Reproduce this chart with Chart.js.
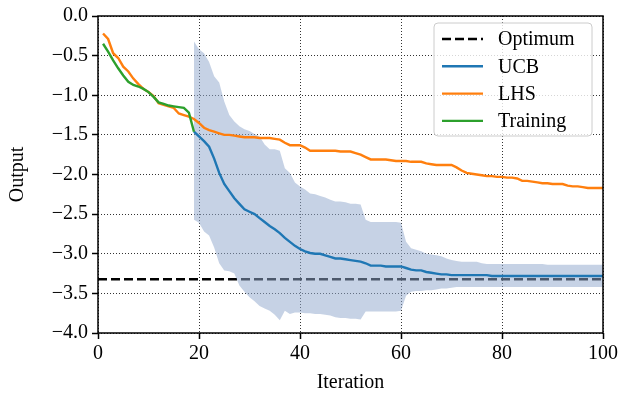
<!DOCTYPE html>
<html>
<head>
<meta charset="utf-8">
<script src="https://cdn.jsdelivr.net/npm/chart.js@4.4.1/dist/chart.umd.min.js"></script>
<style>
  body { margin: 0; background: #fff; }
  #wrap { width: 624px; height: 396px; }
</style>
</head>
<body>
<div id="wrap"><canvas id="myChart"></canvas></div>
<script>
// ----------- Data ------------ //

const OPTIMUM = -3.32237;
const X_RANGE = [0, 100];

// training runs, iterations 1..19
const TRAIN_START = 1;
const training = [-0.35, -0.45, -0.56, -0.66, -0.75, -0.83, -0.87, -0.89, -0.92, -0.96,
  -1.02, -1.09, -1.11, -1.13, -1.14, -1.15, -1.16, -1.22, -1.46];

// LHS, iterations 1..100
const LHS_START = 1;
const lhs = [-0.22, -0.29, -0.47, -0.53, -0.64, -0.70, -0.79, -0.86, -0.92, -0.96,
  -1.01, -1.10, -1.12, -1.14, -1.16, -1.23, -1.25, -1.27, -1.30, -1.35,
  -1.41, -1.44, -1.46, -1.48, -1.50, -1.50, -1.51, -1.52, -1.53, -1.53,
  -1.53, -1.54, -1.54, -1.54, -1.55, -1.56, -1.60, -1.63, -1.63, -1.63,
  -1.66, -1.70, -1.70, -1.70, -1.70, -1.70, -1.70, -1.71, -1.71, -1.71,
  -1.73, -1.75, -1.78, -1.81, -1.81, -1.81, -1.81, -1.82, -1.83, -1.83,
  -1.83, -1.84, -1.84, -1.84, -1.86, -1.87, -1.88, -1.88, -1.88, -1.88,
  -1.91, -1.95, -1.98, -1.99, -2.00, -2.01, -2.02, -2.02, -2.03, -2.03,
  -2.04, -2.04, -2.05, -2.08, -2.08, -2.09, -2.10, -2.11, -2.11, -2.12,
  -2.12, -2.12, -2.14, -2.15, -2.15, -2.16, -2.17, -2.17, -2.17, -2.17];

// UCB mean and spread, iterations 19..100
const UCB_START = 19;
const ucb = [-1.46, -1.52, -1.58, -1.65, -1.80, -1.98, -2.12, -2.21, -2.30, -2.37,
  -2.44, -2.47, -2.50, -2.55, -2.60, -2.65, -2.69, -2.74, -2.80, -2.85,
  -2.90, -2.94, -2.97, -2.99, -3.00, -3.00, -3.02, -3.04, -3.06, -3.06,
  -3.07, -3.08, -3.09, -3.10, -3.12, -3.15, -3.15, -3.15, -3.16, -3.16,
  -3.16, -3.16, -3.18, -3.20, -3.21, -3.21, -3.23, -3.24, -3.25, -3.26,
  -3.26, -3.27, -3.27, -3.27, -3.27, -3.27, -3.27, -3.27, -3.27, -3.28,
  -3.28, -3.28, -3.28, -3.28, -3.28, -3.28, -3.28, -3.28, -3.28, -3.28,
  -3.28, -3.28, -3.28, -3.28, -3.28, -3.28, -3.28, -3.28, -3.28, -3.28,
  -3.28, -3.28];
const ucbUpper = [-0.32, -0.42, -0.47, -0.58, -0.76, -0.84, -1.08, -1.25, -1.33, -1.39,
  -1.43, -1.45, -1.49, -1.52, -1.62, -1.68, -1.68, -1.70, -1.92, -1.98,
  -2.10, -2.15, -2.19, -2.24, -2.25, -2.27, -2.29, -2.32, -2.34, -2.34,
  -2.35, -2.37, -2.37, -2.38, -2.57, -2.60, -2.60, -2.60, -2.60, -2.60,
  -2.60, -2.61, -2.85, -2.93, -2.95, -2.97, -3.00, -3.01, -3.02, -3.03,
  -3.06, -3.08, -3.09, -3.10, -3.10, -3.10, -3.10, -3.12, -3.13, -3.13,
  -3.13, -3.13, -3.13, -3.13, -3.13, -3.13, -3.13, -3.13, -3.13, -3.13,
  -3.14, -3.14, -3.14, -3.14, -3.14, -3.14, -3.14, -3.14, -3.14, -3.14,
  -3.14, -3.14];
const ucbLower = [-2.57, -2.61, -2.72, -2.77, -2.92, -3.12, -3.21, -3.22, -3.25, -3.40,
  -3.48, -3.55, -3.60, -3.66, -3.69, -3.72, -3.77, -3.84, -3.72, -3.76,
  -3.74, -3.74, -3.75, -3.75, -3.76, -3.76, -3.77, -3.78, -3.80, -3.81,
  -3.81, -3.82, -3.82, -3.83, -3.73, -3.73, -3.73, -3.73, -3.73, -3.73,
  -3.73, -3.72, -3.53, -3.48, -3.47, -3.47, -3.46, -3.46, -3.45, -3.44,
  -3.44, -3.43, -3.42, -3.42, -3.42, -3.42, -3.42, -3.42, -3.42, -3.42,
  -3.42, -3.42, -3.42, -3.42, -3.42, -3.42, -3.42, -3.42, -3.42, -3.42,
  -3.42, -3.42, -3.42, -3.42, -3.42, -3.42, -3.42, -3.42, -3.42, -3.42,
  -3.42, -3.42];

const xTicks = [0, 20, 40, 60, 80, 100];
const yTicks = [0, -0.5, -1, -1.5, -2, -2.5, -3, -3.5, -4];

// turn a list of values into {x, y} points
function toPoints(start, values) {
  return values.map((v, i) => ({ x: start + i, y: v }));
}

const FONT = "'Liberation Serif', 'DejaVu Serif', serif";
const BLUE = "#1f77b4", ORANGE = "#ff7f0e", GREEN = "#2ca02c";
const LW = 2.4;

// ----------- Plugins ------------ //

// black box round the plot area
const frame = {
  id: "frame",
  afterDatasetsDraw(chart) {
    const { ctx, chartArea: a } = chart;
    ctx.save();
    ctx.strokeStyle = "#000";
    ctx.lineWidth = 1.5;
    ctx.strokeRect(a.left, a.top, a.right - a.left, a.bottom - a.top);
    ctx.restore();
  }
};

// matplotlib-like legend box in the upper right
const boxLegend = {
  id: "boxLegend",
  afterDraw(chart) {
    const { ctx } = chart;
    const items = [
      { label: "Optimum", color: "#000", dash: [9, 4] },
      { label: "UCB", color: BLUE, dash: [] },
      { label: "LHS", color: ORANGE, dash: [] },
      { label: "Training", color: GREEN, dash: [] }
    ];
    const x0 = 434, y0 = 23, w = 158, h = 113, r = 4;
    ctx.save();
    ctx.beginPath();
    ctx.roundRect(x0, y0, w, h, r);
    ctx.fillStyle = "rgba(255,255,255,0.8)";
    ctx.fill();
    ctx.strokeStyle = "#cccccc";
    ctx.lineWidth = 1;
    ctx.stroke();
    ctx.font = "20px " + FONT;
    ctx.textBaseline = "middle";
    ctx.fillStyle = "#000";
    items.forEach((it, i) => {
      const y = 39 + i * 27.3;
      ctx.beginPath();
      ctx.setLineDash(it.dash);
      ctx.strokeStyle = it.color;
      ctx.lineWidth = LW;
      ctx.moveTo(442, y);
      ctx.lineTo(483, y);
      ctx.stroke();
      ctx.setLineDash([]);
      ctx.fillText(it.label, 498, y + 1);
    });
    ctx.restore();
  }
};

// ----------- Chart ------------ //

const minus = (v) => v.toFixed(1).replace("-", "\u2212");

new Chart("myChart", {
  type: "line",
  data: {
    datasets: [
      {
        label: "Optimum",
        data: X_RANGE.map((x) => ({ x: x, y: OPTIMUM })),
        borderColor: "#000",
        borderWidth: LW,
        borderDash: [9, 4],
        pointRadius: 0,
        order: 6
      },
      {
        label: "UCB upper",
        data: toPoints(UCB_START, ucbUpper),
        borderWidth: 0,
        borderColor: "rgba(0,0,0,0)",
        pointRadius: 0,
        fill: false,
        order: 5
      },
      {
        label: "UCB lower",
        data: toPoints(UCB_START, ucbLower),
        borderWidth: 0,
        borderColor: "rgba(0,0,0,0)",
        backgroundColor: "rgba(145,168,205,0.52)",
        pointRadius: 0,
        fill: "-1",
        order: 5
      },
      {
        label: "UCB",
        data: toPoints(UCB_START, ucb),
        borderColor: BLUE,
        borderWidth: LW,
        pointRadius: 0,
        order: 3
      },
      {
        label: "LHS",
        data: toPoints(LHS_START, lhs),
        borderColor: ORANGE,
        borderWidth: LW,
        pointRadius: 0,
        order: 2
      },
      {
        label: "Training",
        data: toPoints(TRAIN_START, training),
        borderColor: GREEN,
        borderWidth: LW,
        pointRadius: 0,
        order: 1
      }
    ]
  },
  options: {
    responsive: true,
    maintainAspectRatio: false,
    animation: false,
    layout: { padding: { top: 13, right: 21, left: 0, bottom: 0 } },
    plugins: {
      legend: { display: false },
      tooltip: { enabled: false }
    },
    scales: {
      x: {
        type: "linear",
        min: 0,
        max: 100,
        afterBuildTicks: (s) => { s.ticks = xTicks.map((v) => ({ value: v })); },
        afterFit: (s) => { s.height = 63; },
        ticks: {
          color: "#000",
          font: { family: FONT, size: 20 },
          padding: 3,
          maxRotation: 0,
          callback: (v) => String(v)
        },
        grid: {
          color: "#333",
          lineWidth: 1,
          tickLength: 6,
          tickColor: "#000",
          tickWidth: 1.5,
          tickBorderDash: []
        },
        border: { display: false, dash: [1, 2] },
        title: {
          display: true,
          text: "Iteration",
          color: "#000",
          font: { family: FONT, size: 20 },
          padding: { top: 0, bottom: 1 }
        }
      },
      y: {
        type: "linear",
        min: -4,
        max: 0,
        afterBuildTicks: (s) => { s.ticks = yTicks.map((v) => ({ value: v })); },
        afterFit: (s) => { s.width = 98; },
        ticks: {
          color: "#000",
          font: { family: FONT, size: 20 },
          padding: 4,
          callback: (v) => minus(v)
        },
        grid: {
          color: "#333",
          lineWidth: 1,
          tickLength: 6,
          tickColor: "#000",
          tickWidth: 1.5,
          tickBorderDash: []
        },
        border: { display: false, dash: [1, 2] },
        title: {
          display: true,
          text: "Output",
          color: "#000",
          font: { family: FONT, size: 20 },
          padding: { top: 6, bottom: 0 }
        }
      }
    }
  },
  plugins: [frame, boxLegend]
});
</script>
</body>
</html>
